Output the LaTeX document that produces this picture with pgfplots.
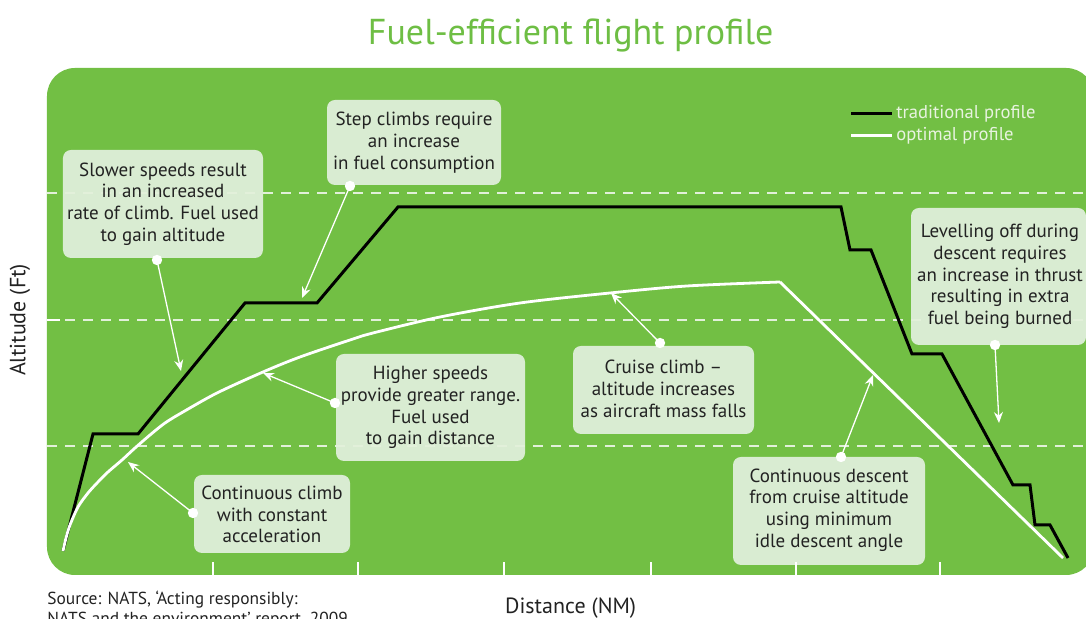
\documentclass[border=0pt]{standalone}
\usepackage{pgfplots}
\pgfplotsset{compat=1.18}
\usepackage{fontspec}
\setmainfont{PT Sans}
\usetikzlibrary{arrows.meta}
\definecolor{bggreen}{HTML}{72BF44}
\definecolor{titlegreen}{HTML}{6EBE44}
\definecolor{boxgreen}{HTML}{D9ECD2}
\definecolor{textdark}{HTML}{222222}
\definecolor{legtext}{HTML}{E8F3E0}
\definecolor{gridcol}{HTML}{E2F0DA}
\newcommand{\boxfont}{\fontsize{9.5}{10.85}\selectfont}
\begin{document}
\begin{tikzpicture}
\begin{axis}[
  set layers,
  scale only axis,
  width=519.5pt, height=253.5pt,
  xmin=47, xmax=1086, ymin=68, ymax=575,
  y dir=reverse,
  clip=false,
  axis line style={draw=none},
  xtick={213,358,504,651,796,940},
  ytick={320},
  xticklabels={}, yticklabels={},
  xtick pos=bottom, ytick pos=left,
  tick align=inside,
  major tick length=6.5pt,
  tick style={white, line width=1pt},
  extra y ticks={193,320,446},
  extra y tick labels={},
  extra y tick style={grid=major, major tick length=0pt},
  major grid style={gridcol, line width=0.75pt, dash pattern=on 5pt off 4pt},
  title={Fuel-efficient flight profile},
  title style={at={(0.504,1.041)}, anchor=center, font=\fontsize{18}{21}\selectfont, text=titlegreen},
  xlabel={Distance (NM)},
  xlabel style={at={(0.504,-0.065)}, anchor=center, font=\fontsize{11}{13}\selectfont, text=textdark},
  ylabel={Altitude (Ft)},
  ylabel style={at={(-0.026,0.503)}, anchor=center, rotate=0, font=\fontsize{11}{13}\selectfont, text=textdark},
  legend style={at={(0.772,0.932)}, anchor=north west, draw=none, fill=none,
    font=\fontsize{9.3}{10}\selectfont, text=legtext, inner sep=0pt, row sep=0pt,
    nodes={inner sep=1.4pt}},
  legend cell align=left,
  legend image code/.code={\path (0pt,0pt) -- (20.5pt,0pt); \draw[#1] (0pt,0pt) -- (17.5pt,0pt);},
]
\begin{pgfonlayer}{axis background}
  \fill[bggreen, rounded corners=14pt] (axis cs:47,68) rectangle (axis cs:1094,575);
  \fill[boxgreen, rounded corners=4pt] (axis cs:63,150) rectangle (axis cs:263,258);
  \fill[boxgreen, rounded corners=4pt] (axis cs:327,100) rectangle (axis cs:501,185);
  \fill[boxgreen, rounded corners=4pt] (axis cs:336,354) rectangle (axis cs:525,461);
  \fill[boxgreen, rounded corners=4pt] (axis cs:573,346) rectangle (axis cs:754,434);
  \fill[boxgreen, rounded corners=4pt] (axis cs:194,475) rectangle (axis cs:350,553);
  \fill[boxgreen, rounded corners=4pt] (axis cs:733,457) rectangle (axis cs:925,565);
  \fill[boxgreen, rounded corners=4pt] (axis cs:911,208) rectangle (axis cs:1086,345);
\end{pgfonlayer}

\addplot[black, line width=1.5pt] coordinates {
 (63,551) (93,434) (138,434) (245,303) (317,303) (398,207) (841,207)
 (850,250) (871,250) (912,354) (942,354) (1013,485) (1030,485)
 (1035,525) (1050,525) (1068,558)};
\addlegendentry{traditional profile}
\addplot[white, line width=1.4pt, smooth, tension=0.5] coordinates {
 (63,551) (66,538) (70,525) (78,507) (88,493) (98,482) (108,472)
 (122,460) (135,448) (150,435) (165,423) (183,412) (217,393) (263,372)
 (300,357) (350,340) (373,333) (440,317) (520,303) (610,293) (687,286) (780,282)};
\addlegendentry{optimal profile}
\addplot[white, line width=1.4pt, forget plot] coordinates {(780,282) (1063,558)};

\node[font=\boxfont, text=textdark, align=center] at (axis cs:163,204) {Slower speeds result\\in an increased\\rate of climb. Fuel used\\to gain altitude};
\node[font=\boxfont, text=textdark, align=center] at (axis cs:414,142.5) {Step climbs require\\an increase\\in fuel consumption};
\node[font=\boxfont, text=textdark, align=center] at (axis cs:430.5,407.5) {Higher speeds\\provide greater range.\\Fuel used\\to gain distance};
\node[font=\boxfont, text=textdark, align=center] at (axis cs:663.5,389) {Cruise climb –\\altitude increases\\as aircraft mass falls};
\node[font=\boxfont, text=textdark, align=center] at (axis cs:272,514.5) {Continuous climb\\with constant\\acceleration};
\node[font=\boxfont, text=textdark, align=center] at (axis cs:829,510) {Continuous descent\\from cruise altitude\\using minimum\\idle descent angle};
\node[font=\boxfont, text=textdark, align=center] at (axis cs:1000,276.5) {Levelling off during\\descent requires\\an increase in thrust\\resulting in extra\\fuel being burned};

\draw[white, line width=0.65pt, -{Stealth[length=5.5pt, width=4.5pt, inset=1.8pt]}] (axis cs:157,260) -- (axis cs:181,371);
\draw[white, line width=0.65pt, -{Stealth[length=5.5pt, width=4.5pt, inset=1.8pt]}] (axis cs:350,186) -- (axis cs:302,298);
\draw[white, line width=0.65pt, -{Stealth[length=5.5pt, width=4.5pt, inset=1.8pt]}] (axis cs:335,403) -- (axis cs:263,373);
\draw[white, line width=0.65pt, -{Stealth[length=5.5pt, width=4.5pt, inset=1.8pt]}] (axis cs:660,343) -- (axis cs:611,293);
\draw[white, line width=0.65pt, -{Stealth[length=5.5pt, width=4.5pt, inset=1.8pt]}] (axis cs:193,513) -- (axis cs:128,462);
\draw[white, line width=0.65pt, -{Stealth[length=5.5pt, width=4.5pt, inset=1.8pt]}] (axis cs:841,457) -- (axis cs:873,375);
\draw[white, line width=0.65pt, -{Stealth[length=5.5pt, width=4.5pt, inset=1.8pt]}] (axis cs:995,345) -- (axis cs:999,423);
\fill[white] (axis cs:157,260) circle[radius=2.6pt];
\fill[white] (axis cs:350,186) circle[radius=2.6pt];
\fill[white] (axis cs:335,403) circle[radius=2.6pt];
\fill[white] (axis cs:660,343) circle[radius=2.6pt];
\fill[white] (axis cs:193,513) circle[radius=2.6pt];
\fill[white] (axis cs:841,457) circle[radius=2.6pt];
\fill[white] (axis cs:995,345) circle[radius=2.6pt];

\node[font=\fontsize{8.7}{10}\selectfont, text=textdark, align=left, anchor=north west, inner sep=0pt] at (axis cs:47,591) {Source: NATS, ‘Acting responsibly:\\NATS and the environment’ report, 2009};

\coordinate (BL) at (axis cs:0,619);
\coordinate (TR) at (axis cs:1086,0);
\end{axis}
\pgfresetboundingbox
\path[use as bounding box] (BL) rectangle (TR);
\end{tikzpicture}
\end{document}
